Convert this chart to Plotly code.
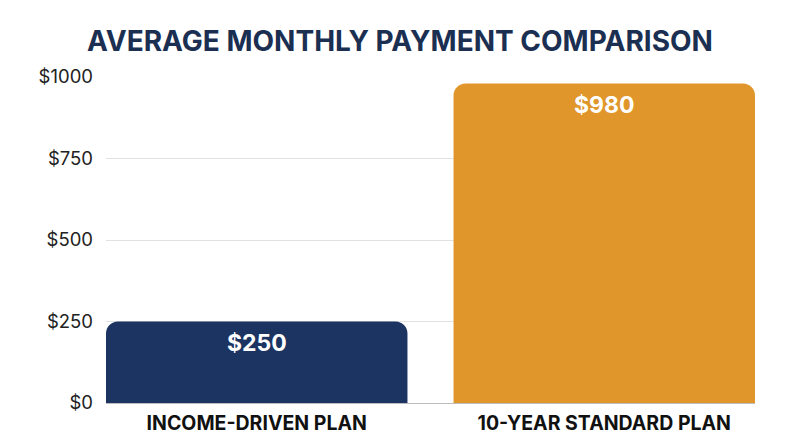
import plotly.graph_objects as go

categories = ["INCOME-DRIVEN PLAN", "10-YEAR STANDARD PLAN"]
values = [250, 980]
labels = ["$250", "$980"]
colors = ["#1b3462", "#e0962a"]
tick_vals = [0, 250, 500, 750, 1000]
tick_text = ["$0", "$250", "$500", "$750", "$1000"]

bargap = 0.1326
half = (1 - bargap) / 2

fig = go.Figure(go.Bar(
    x=categories, y=values,
    marker=dict(color=colors, cornerradius=12, line=dict(width=0)),
    hoverinfo="skip",
))
for c, v, t in zip(categories, values, labels):
    fig.add_annotation(x=c, y=v, text=t, showarrow=False, yanchor="top", yshift=-5,
                       font=dict(family="Inter", size=23, color="white", weight="bold"))
fig.update_layout(
    width=800, height=447,
    margin=dict(l=106, r=45, t=77, b=44),
    paper_bgcolor="white", plot_bgcolor="white",
    bargap=bargap,
    showlegend=False,
    title=dict(text="AVERAGE MONTHLY PAYMENT COMPARISON", x=0.5, xanchor="center",
               y=0.907, yanchor="middle",
               font=dict(family="Inter", size=28, color="#1b2f52", weight="bold")),
)
fig.update_xaxes(range=[-half, 1 + half], showgrid=False, showline=False, ticks="",
                 ticklabelstandoff=6,
                 tickfont=dict(family="Inter", size=19.5, color="#111111", weight="bold"))
fig.update_yaxes(range=[0, 1000], tickvals=tick_vals, ticktext=tick_text,
                 showgrid=True, gridcolor="#e2e2e2", gridwidth=1,
                 zeroline=True, zerolinecolor="#bdbdbd", zerolinewidth=1,
                 showline=False, ticks="", ticklabelstandoff=12,
                 tickfont=dict(family="Inter", size=18.5, color="#222222"))
fig.write_html("out.html", config={"displayModeBar": False},
               post_script="document.body.style.margin='0';")
